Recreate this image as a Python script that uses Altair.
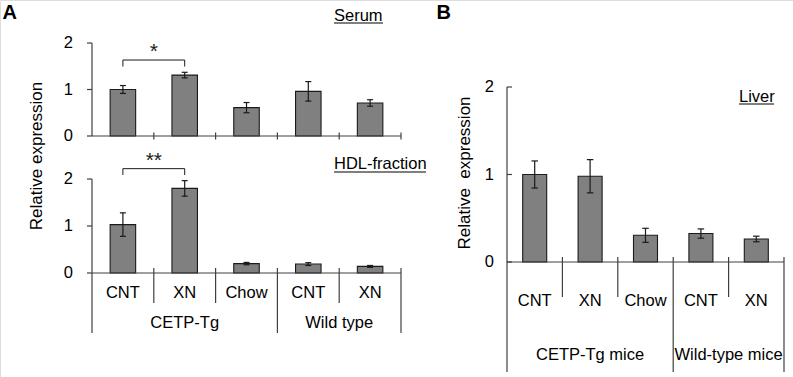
import altair as alt
import pandas as pd

# ---------------- data ----------------
categories = ["CNT", "XN", "Chow", "CNT", "XN"]
groups_A = ["CETP-Tg", "Wild type"]
groups_B = ["CETP-Tg mice", "Wild-type mice"]
group_bounds = [0, 3, 5]

serum_mean = [1.00, 1.31, 0.61, 0.96, 0.71]
serum_err = [0.085, 0.06, 0.11, 0.21, 0.07]
hdl_mean = [1.03, 1.80, 0.20, 0.19, 0.14]
hdl_err = [0.25, 0.165, 0.025, 0.03, 0.02]
liver_mean = [1.00, 0.98, 0.305, 0.325, 0.263]
liver_err = [0.155, 0.19, 0.08, 0.053, 0.032]
y_ticks = [0, 1, 2]

serum_sig = "*"
hdl_sig = "**"

# ---------------- style ----------------
FONT = "Liberation Sans"
FS = 16.5
BAR = "#808080"
EDGE = "#1a1a1a"
AXIS = "#404040"
LW = 1.2


def make_df(mean, err):
    return pd.DataFrame({
        "pos": [i + 0.5 for i in range(len(categories))],
        "cat": categories,
        "mean": mean,
        "lo": [m - e for m, e in zip(mean, err)],
        "hi": [m + e for m, e in zip(mean, err)],
    })


def data_layers(df, xs, ys, bar_w, cap_w):
    X = alt.X("pos:Q", scale=xs, axis=None)
    bars = alt.Chart(df).mark_bar(
        orient="vertical", size=bar_w, fill=BAR, stroke=EDGE,
        strokeWidth=1.1, opacity=1
    ).encode(x=X, y=alt.Y("mean:Q", scale=ys, axis=None))
    stems = alt.Chart(df).mark_rule(color=EDGE, strokeWidth=LW).encode(
        x=X, y=alt.Y("lo:Q", scale=ys, axis=None), y2="hi:Q")
    caps_df = pd.concat([
        pd.DataFrame({"pos": df["pos"], "v": df["lo"]}),
        pd.DataFrame({"pos": df["pos"], "v": df["hi"]}),
    ])
    caps = alt.Chart(caps_df).mark_tick(
        orient="horizontal", size=cap_w, thickness=LW, color=EDGE, opacity=1
    ).encode(x=X, y=alt.Y("v:Q", scale=ys, axis=None))
    return [bars, stems, caps]


def y_axis(xs, ys, tick_dx, label_dx, y_bottom_px=None):
    tdf = pd.DataFrame({"x": [0] * len(y_ticks), "y": y_ticks,
                        "lab": [str(t) for t in y_ticks]})
    X = alt.X("x:Q", scale=xs, axis=None)
    line_df = pd.DataFrame({"x": [0], "y0": [min(y_ticks)], "y1": [max(y_ticks)]})
    if y_bottom_px is None:
        line = alt.Chart(line_df).mark_rule(color=AXIS, strokeWidth=LW).encode(
            x=X, y=alt.Y("y0:Q", scale=ys, axis=None), y2="y1:Q")
    else:
        line = alt.Chart(line_df).mark_rule(color=AXIS, strokeWidth=LW).encode(
            x=X, y=alt.Y("y1:Q", scale=ys, axis=None), y2=alt.value(y_bottom_px))
    ticks = alt.Chart(tdf).mark_tick(
        orient="horizontal", size=5, thickness=LW, color=AXIS, xOffset=tick_dx, opacity=1
    ).encode(x=X, y=alt.Y("y:Q", scale=ys, axis=None))
    labels = alt.Chart(tdf).mark_text(
        align="right", baseline="middle", dx=label_dx, font=FONT, fontSize=FS, color="#000"
    ).encode(x=X, y=alt.Y("y:Q", scale=ys, axis=None), text="lab:N")
    return [line, ticks, labels]


def x_axis_line(xs, ys):
    df = pd.DataFrame({"x0": [0], "x1": [len(categories)], "y": [0]})
    return alt.Chart(df).mark_rule(color=AXIS, strokeWidth=LW).encode(
        x=alt.X("x0:Q", scale=xs, axis=None), x2="x1:Q",
        y=alt.Y("y:Q", scale=ys, axis=None))


def bracket(xs, ys, x0, x1, h, leg, sig, dy):
    seg = pd.DataFrame({
        "xa": [x0, x0, x1], "xb": [x1, x0, x1],
        "ya": [h, h, h], "yb": [h, h - leg, h - leg],
    })
    lines = alt.Chart(seg).mark_rule(color=EDGE, strokeWidth=1.0).encode(
        x=alt.X("xa:Q", scale=xs, axis=None), x2="xb:Q",
        y=alt.Y("ya:Q", scale=ys, axis=None), y2="yb:Q")
    star = alt.Chart(pd.DataFrame({"x": [(x0 + x1) / 2], "y": [h], "t": [sig]})).mark_text(
        font=FONT, fontSize=21, dy=dy, baseline="alphabetic", align="center", color="#222"
    ).encode(x=alt.X("x:Q", scale=xs, axis=None), y=alt.Y("y:Q", scale=ys, axis=None), text="t:N")
    return [lines, star]


def category_labels(df, xs, y_px):
    return alt.Chart(df).mark_text(
        font=FONT, fontSize=FS, baseline="middle", align="center", color="#000"
    ).encode(x=alt.X("pos:Q", scale=xs, axis=None), y=alt.value(y_px), text="cat:N")


def group_labels(names, xs, y_px):
    gdf = pd.DataFrame({
        "pos": [(group_bounds[i] + group_bounds[i + 1]) / 2 for i in range(len(names))],
        "g": names,
    })
    return alt.Chart(gdf).mark_text(
        font=FONT, fontSize=FS, baseline="middle", align="center", color="#000"
    ).encode(x=alt.X("pos:Q", scale=xs, axis=None), y=alt.value(y_px), text="g:N")


def separators(xs, top_px, inner_px, group_px):
    inner = [i for i in range(1, len(categories)) if i not in group_bounds]
    outer = [b for b in group_bounds if b > 0]
    a = alt.Chart(pd.DataFrame({"x": inner})).mark_rule(color=AXIS, strokeWidth=LW).encode(
        x=alt.X("x:Q", scale=xs, axis=None), y=alt.value(top_px), y2=alt.value(inner_px))
    b = alt.Chart(pd.DataFrame({"x": outer})).mark_rule(color=AXIS, strokeWidth=LW).encode(
        x=alt.X("x:Q", scale=xs, axis=None), y=alt.value(top_px), y2=alt.value(group_px))
    return [a, b]


# ---------------- Panel A: Serum ----------------
xsA = alt.Scale(domain=[0, 5], range=[87, 406], zero=False, nice=False)
ys_ser = alt.Scale(domain=[0, 2], range=[136, 43], nice=False)
df_ser = make_df(serum_mean, serum_err)
ser_ticks = alt.Chart(pd.DataFrame({"x": list(range(1, len(categories) + 1)), "y": [0] * 5})).mark_tick(
    orient="vertical", size=7, thickness=LW, color=AXIS, opacity=1
).encode(x=alt.X("x:Q", scale=xsA, axis=None), y=alt.Y("y:Q", scale=ys_ser, axis=None))
panel_ser = alt.layer(
    *data_layers(df_ser, xsA, ys_ser, 25.5, 6),
    *y_axis(xsA, ys_ser, -2.5, -19),
    x_axis_line(xsA, ys_ser),
    ser_ticks,
    *bracket(xsA, ys_ser, 0.5, 1.5, 1.634, 0.14, serum_sig, -2),
)

# ---------------- Panel A: HDL ----------------
ys_hdl = alt.Scale(domain=[0, 2], range=[273, 179], nice=False)
df_hdl = make_df(hdl_mean, hdl_err)
panel_hdl = alt.layer(
    *data_layers(df_hdl, xsA, ys_hdl, 25.5, 6),
    *y_axis(xsA, ys_hdl, -2.5, -19, y_bottom_px=333),
    x_axis_line(xsA, ys_hdl),
    *separators(xsA, 268, 303, 333),
    *bracket(xsA, ys_hdl, 0.5, 1.5, 2.22, 0.135, hdl_sig, -2),
    category_labels(df_hdl, xsA, 293),
    group_labels(groups_A, xsA, 323),
)

# ---------------- Panel B: Liver ----------------
xsB = alt.Scale(domain=[0, 5], range=[502, 789], zero=False, nice=False)
ys_liv = alt.Scale(domain=[0, 2], range=[262, 87], nice=False)
df_liv = make_df(liver_mean, liver_err)
panel_liv = alt.layer(
    *data_layers(df_liv, xsB, ys_liv, 24, 6.5),
    *y_axis(xsB, ys_liv, 2.5, -13, y_bottom_px=372),
    x_axis_line(xsB, ys_liv),
    *separators(xsB, 257, 297, 372),
    category_labels(df_liv, xsB, 301),
    group_labels(groups_B, xsB, 355),
)


# ---------------- annotations (titles) ----------------
def label(text, x, y, size=FS, bold=False, angle=0, align="left", baseline="alphabetic"):
    kw = dict(font=FONT, fontSize=size, align=align, baseline=baseline, color="#000",
              fontWeight="bold" if bold else "normal")
    if angle:
        kw["angle"] = angle
    return alt.Chart(pd.DataFrame({"t": [text]})).mark_text(**kw).encode(
        text="t:N", x=alt.value(x), y=alt.value(y))


def underline(x0, x1, y):
    return alt.Chart(pd.DataFrame({"a": [0]})).mark_rule(color="#000", strokeWidth=1.1).encode(
        x=alt.value(x0), x2=alt.value(x1), y=alt.value(y))


annot = alt.layer(
    label("A", 2.5, 19, size=20, bold=True),
    label("B", 436.5, 19, size=20, bold=True),
    label("Serum", 334, 20.7),
    underline(334, 383, 23),
    label("HDL-fraction", 334, 169.3),
    underline(334, 426, 172),
    label("Liver", 739, 101.7),
    underline(739, 774, 104),
    label("Relative expression", 37, 156, angle=270, align="center", baseline="middle", size=17),
    label("Relative\u00a0 expression", 465, 173, angle=270, align="center", baseline="middle", size=17),
)

chart = alt.layer(panel_ser, panel_hdl, panel_liv, annot).resolve_scale(
    x="independent", y="independent"
).properties(
    width=793, height=377,
    autosize=alt.AutoSizeParams(type="none"),
    padding=0,
).configure_view(stroke=None).configure(background="white")

chart.save("out.html", embed_options={"renderer": "svg", "actions": False})
